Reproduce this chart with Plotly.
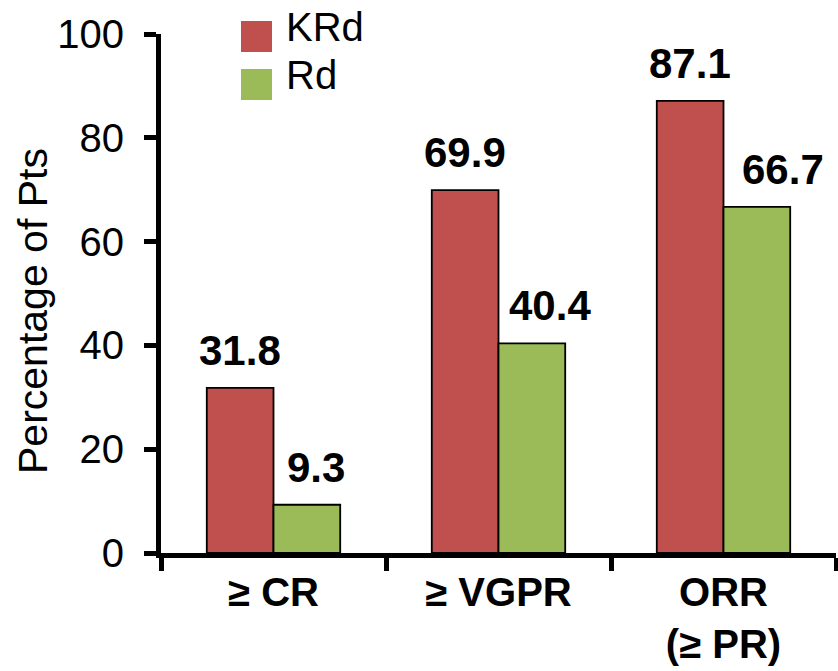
import plotly.graph_objects as go

# Response rates by depth of response
categories = ["≥ CR", "≥ VGPR", "ORR<br>(≥ PR)"]
series_names = ["KRd", "Rd"]
krd_values = [31.8, 69.9, 87.1]
rd_values = [9.3, 40.4, 66.7]
y_ticks = [0, 20, 40, 60, 80, 100]

colors = {"KRd": "#C0504D", "Rd": "#9BBB59"}
FONT = "Liberation Sans, Arial, Helvetica, sans-serif"

W, H = 838, 671
M_L, M_R, M_T, M_B = 161, 2, 34, 118
BARGAP = 0.407
plot_w = W - M_L - M_R
plot_h = H - M_T - M_B


def px_to_paper(px, py):
    return (px - M_L) / plot_w, (H - M_B - py) / plot_h


fig = go.Figure()
for name, vals in zip(series_names, [krd_values, rd_values]):
    fig.add_trace(go.Bar(
        x=categories, y=vals, name=name,
        marker=dict(color=colors[name], line=dict(color="black", width=1.8)),
        showlegend=False,
    ))

# value labels above each bar
half = (1 - BARGAP) / 4
rd_nudge = [9, 18, 26]  # small rightward nudges for the Rd labels (px)
for i, cat in enumerate(categories):
    fig.add_annotation(x=i - half, y=krd_values[i], xref="x", yref="y",
                       text=f"{krd_values[i]:.1f}", showarrow=False,
                       yanchor="bottom", yshift=12,
                       font=dict(family=FONT, size=42, color="black", weight="bold"))
    fig.add_annotation(x=i + half, y=rd_values[i], xref="x", yref="y",
                       text=f"{rd_values[i]:.1f}", showarrow=False,
                       yanchor="bottom", yshift=12, xshift=rd_nudge[i],
                       font=dict(family=FONT, size=42, color="black", weight="bold"))

# legend drawn as squares + labels
for k, name in enumerate(series_names):
    top = 21 + 48 * k
    x0, y0 = px_to_paper(241, top + 31)
    x1, y1 = px_to_paper(272, top)
    fig.add_shape(type="rect", xref="paper", yref="paper",
                  x0=x0, y0=y0, x1=x1, y1=y1,
                  fillcolor=colors[name], line=dict(width=0))
    tx, ty = px_to_paper(284, top + 6)
    fig.add_annotation(x=tx, y=ty, xref="paper", yref="paper",
                       text=name, showarrow=False, xanchor="left", yanchor="middle",
                       font=dict(family=FONT, size=40, color="black"))

# y-axis title
tx, ty = px_to_paper(33, 311)
fig.add_annotation(x=tx, y=ty, xref="paper", yref="paper",
                   text="Percentage of Pts", showarrow=False, textangle=-90,
                   xanchor="center", yanchor="middle",
                   font=dict(family=FONT, size=41, color="black"))

fig.update_layout(
    width=W, height=H,
    margin=dict(l=M_L, r=M_R, t=M_T, b=M_B, pad=0),
    paper_bgcolor="white", plot_bgcolor="white",
    barmode="group", bargap=BARGAP, bargroupgap=0,
    font=dict(family=FONT, color="black"),
)
fig.update_xaxes(
    showline=True, linecolor="black", linewidth=5,
    ticks="outside", tickson="boundaries", ticklen=13, tickwidth=5, tickcolor="black",
    tickfont=dict(family=FONT, size=40, color="black", weight="bold"),
    showgrid=False, zeroline=False,
)
fig.update_yaxes(
    range=[0, 100], tickvals=y_ticks,
    showline=True, linecolor="black", linewidth=5,
    ticks="outside", ticklen=12, tickwidth=5, tickcolor="black",
    tickfont=dict(family=FONT, size=40, color="black"),
    ticklabelstandoff=12,
    showgrid=False, zeroline=False,
)

fig.write_html("out.html")
